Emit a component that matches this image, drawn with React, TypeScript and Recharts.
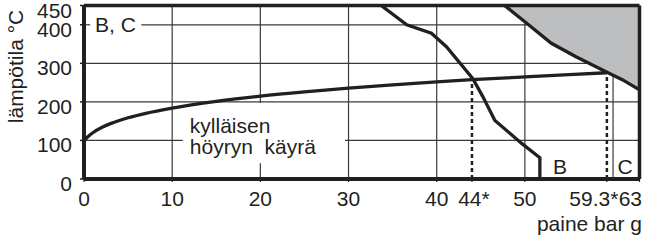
import {
    ComposedChart,
    Line,
    Area,
    XAxis,
    YAxis,
    ReferenceLine,
    ReferenceDot,
    Label,
} from "recharts";

const xTicks = [0, 10, 20, 30, 40, 44, 50, 59.3, 63];
const yTicks = [0, 100, 200, 300, 400, 450];

// kylläisen höyryn käyrä (saturated steam)
const satPressure = [0, 0.5, 1, 2, 3, 4, 5, 7, 10, 15, 20, 25, 30, 35, 40, 44, 50, 55, 59.3];
const satTemp = [100, 111, 120, 133.5, 143.6, 151.8, 158.8, 170.4, 184, 201.4, 214.9, 226, 235.7, 244.2, 251.8, 257.5, 264.9, 270.7, 275.6];

// curve B
const bPressure = [33.7, 36.6, 39.4, 41.1, 44.1, 45.2, 46.6, 49.6, 51.7, 51.7];
const bTemp = [450, 400, 378, 343, 260, 215, 152, 93, 55, 0];

// boundary of area C
const cPressure = [47.7, 50, 53, 55.8, 59.2, 61.1, 63];
const cTemp = [450, 408, 352, 317, 278, 257, 231];

// dashed limits
const limitPressure = [44, 59.3];
const limitTemp = [257.5, 275.6];

const gridX = [10, 20, 30, 40, 50, 60];
const gridY = [100, 200, 300, 400];

const ink = "#231f20";
const gridColor = "#3a3a3a";
const font = "'Liberation Sans', Arial, sans-serif";

const satData = satPressure.map((p, i) => ({ p, t: satTemp[i] }));
const bData = bPressure.map((p, i) => ({ p, t: bTemp[i] }));
const cData = cPressure.map((p, i) => ({ p, t: cTemp[i] }));

// gaps in the grid behind the text labels
const textGap = { x1: 11.2, x2: 29.6, y1: 41, y2: 197 };
const bcGap = { x1: 0.7, x2: 6.5 };

function gridSegments() {
    const segs: { a: { x: number; y: number }; b: { x: number; y: number } }[] = [];
    gridY.forEach((y) => {
        if (y === 100) {
            segs.push({ a: { x: 0, y }, b: { x: textGap.x1, y } });
            segs.push({ a: { x: textGap.x2, y }, b: { x: 63, y } });
        } else if (y === 400) {
            segs.push({ a: { x: 0, y }, b: { x: bcGap.x1, y } });
            segs.push({ a: { x: bcGap.x2, y }, b: { x: 63, y } });
        } else {
            segs.push({ a: { x: 0, y }, b: { x: 63, y } });
        }
    });
    gridX.forEach((x) => {
        if (x === 20) {
            segs.push({ a: { x, y: 0 }, b: { x, y: textGap.y1 } });
            segs.push({ a: { x, y: textGap.y2 }, b: { x, y: 450 } });
        } else {
            segs.push({ a: { x, y: 0 }, b: { x, y: 450 } });
        }
    });
    return segs;
}

const textStyle = {
    fontFamily: font,
    fontSize: 21,
    fill: ink,
};

function YTick(props: any) {
    const { x, y, payload } = props;
    return (
        <text x={x} y={y + 12} textAnchor="end" style={textStyle}>
            {payload.value}
        </text>
    );
}

function XTick(props: any) {
    const { x, y, payload } = props;
    const v = payload.value;
    let label = String(v);
    let anchor: "middle" | "end" = "middle";
    let dx = 0;
    if (v === 44) {
        label = "44*";
        dx = 2;
    }
    if (v === 59.3) {
        label = "59.3*";
        anchor = "end";
        dx = 11.5;
    }
    if (v === 63) {
        anchor = "end";
        dx = 2.5;
    }
    return (
        <text x={x + dx} y={y + 22} textAnchor={anchor} style={textStyle}>
            {label}
        </text>
    );
}

function note(text: string) {
    return (props: any) => {
        const vb = props.viewBox || {};
        return (
            <text
                x={vb.x}
                y={vb.y}
                textAnchor="start"
                style={{ ...textStyle, whiteSpace: "pre" }}
            >
                {text}
            </text>
        );
    };
}

export default function App() {
    return (
        <div style={{ position: "absolute", left: 0, top: 0 }}>
            <ComposedChart
                width={647}
                height={240}
                margin={{ top: 5.5, right: 7.5, left: 0, bottom: 0 }}
            >
                <XAxis
                    dataKey="p"
                    type="number"
                    domain={[0, 63]}
                    ticks={xTicks}
                    interval={0}
                    height={61}
                    allowDataOverflow
                    axisLine={{ stroke: ink, strokeWidth: 4 }}
                    tickLine={{ stroke: ink, strokeWidth: 1.2 }}
                    tickSize={3}
                    tick={<XTick />}
                >
                    <Label
                        content={(props: any) => {
                            const vb = props.viewBox;
                            return (
                                <text
                                    x={vb.x + vb.width + 2.5}
                                    y={vb.y + 52}
                                    textAnchor="end"
                                    style={textStyle}
                                >
                                    paine bar g
                                </text>
                            );
                        }}
                    />
                </XAxis>
                <YAxis
                    type="number"
                    domain={[0, 450]}
                    ticks={yTicks}
                    interval={0}
                    width={84}
                    allowDataOverflow
                    axisLine={{ stroke: ink, strokeWidth: 4 }}
                    tickLine={{ stroke: ink, strokeWidth: 1.5 }}
                    tickSize={4}
                    tickMargin={8}
                    tick={<YTick />}
                >
                    <Label
                        content={(props: any) => {
                            const vb = props.viewBox;
                            const cx = vb.x + 23;
                            const cy = vb.y + 61;
                            return (
                                <text
                                    x={cx}
                                    y={cy}
                                    textAnchor="middle"
                                    transform={`rotate(-90 ${cx} ${cy})`}
                                    style={textStyle}
                                >
                                    lämpötila °C
                                </text>
                            );
                        }}
                    />
                </YAxis>

                {gridSegments().map((s, i) => (
                    <ReferenceLine
                        key={"g" + i}
                        segment={[s.a, s.b]}
                        stroke={gridColor}
                        strokeWidth={1.2}
                        zIndex={-50}
                    />
                ))}

                <Area
                    data={cData}
                    dataKey="t"
                    type="linear"
                    baseValue={450}
                    fill="#bcbec0"
                    fillOpacity={1}
                    stroke="none"
                    dot={false}
                    activeDot={false}
                    isAnimationActive={false}
                />

                {limitPressure.map((p, i) => (
                    <Line
                        key={"d" + i}
                        data={[
                            { p, t: 0 },
                            { p, t: limitTemp[i] },
                        ]}
                        dataKey="t"
                        type="linear"
                        stroke={ink}
                        strokeWidth={2.5}
                        strokeDasharray="4 3"
                        dot={false}
                        activeDot={false}
                        isAnimationActive={false}
                    />
                ))}

                <Line
                    data={satData}
                    dataKey="t"
                    type="monotone"
                    stroke={ink}
                    strokeWidth={3.3}
                    dot={false}
                    activeDot={false}
                    isAnimationActive={false}
                />
                <Line
                    data={bData}
                    dataKey="t"
                    type="linear"
                    stroke={ink}
                    strokeWidth={3.3}
                    dot={false}
                    activeDot={false}
                    isAnimationActive={false}
                />
                <Line
                    data={cData}
                    dataKey="t"
                    type="linear"
                    stroke={ink}
                    strokeWidth={3.3}
                    dot={false}
                    activeDot={false}
                    isAnimationActive={false}
                />

                <ReferenceLine y={450} stroke={ink} strokeWidth={3.5} />
                <ReferenceLine x={63} stroke={ink} strokeWidth={3.5} />

                <ReferenceDot x={1.25} y={382} r={0} stroke="none" fill="none" label={note("B, C")} />
                <ReferenceDot x={12} y={120} r={0} stroke="none" fill="none" label={note("kylläisen")} />
                <ReferenceDot x={12} y={65} r={0} stroke="none" fill="none" label={note("höyryn  käyrä")} />
                <ReferenceDot x={53.2} y={12} r={0} stroke="none" fill="none" label={note("B")} />
                <ReferenceDot x={60.5} y={12} r={0} stroke="none" fill="none" label={note("C")} />
            </ComposedChart>
        </div>
    );
}
